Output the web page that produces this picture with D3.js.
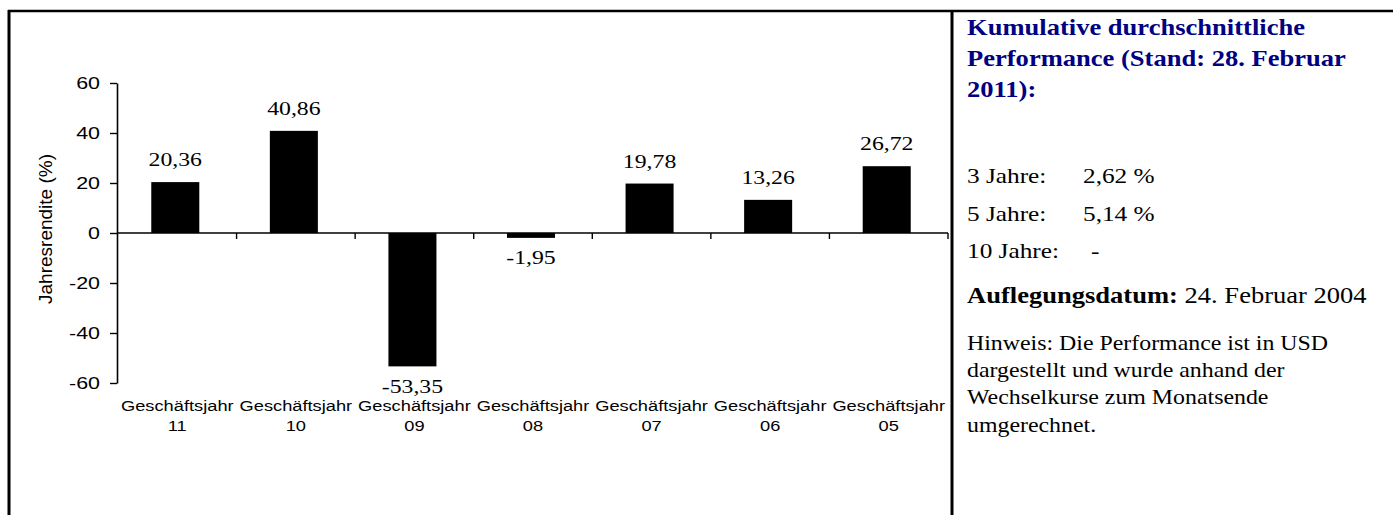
<!DOCTYPE html>
<html>
<head>
<meta charset="utf-8">
<script src="https://cdn.jsdelivr.net/npm/d3@7"></script>
<style>
  html, body { margin: 0; padding: 0; background: #fff; }
  svg { display: block; }
</style>
</head>
<body>
<svg id="chart" width="1393" height="515"></svg>
<script>
// ---- data ----
const categoryTop = "Geschäftsjahr";
const categoryYears = ["11", "10", "09", "08", "07", "06", "05"];
const values = [20.36, 40.86, -53.35, -1.95, 19.78, 13.26, 26.72];
const yTicks = [-60, -40, -20, 0, 20, 40, 60];
const yLabel = "Jahresrendite (%)";

const titleLines = ["Kumulative durchschnittliche", "Performance (Stand: 28. Februar", "2011):"];
const perfLabels = ["3 Jahre:", "5 Jahre:", "10 Jahre:"];
const perfValues = ["2,62 %", "5,14 %", "-"];
const launchLabel = "Auflegungsdatum:";
const launchDate = " 24. Februar 2004";
const noteLines = ["Hinweis: Die Performance ist in USD", "dargestellt und wurde anhand der", "Wechselkurse zum Monatsende", "umgerechnet."];

// ---- layout ----
const SANS = "'Liberation Sans', Arial, sans-serif";
const SERIF = "'Liberation Serif', 'Times New Roman', serif";

const svg = d3.select("#chart");
svg.append("rect").attr("width", 1393).attr("height", 515).attr("fill", "#fff");

// frame
svg.append("line").attr("x1", 8).attr("x2", 1393).attr("y1", 11).attr("y2", 11)
  .attr("stroke", "#000").attr("stroke-width", 2.5);
svg.append("line").attr("x1", 9).attr("x2", 9).attr("y1", 10).attr("y2", 515)
  .attr("stroke", "#000").attr("stroke-width", 3);
svg.append("line").attr("x1", 952).attr("x2", 952).attr("y1", 10).attr("y2", 515)
  .attr("stroke", "#000").attr("stroke-width", 3);

const ids = categoryYears.map((d, i) => i);
const y = d3.scaleLinear().domain([-60, 60]).range([383, 83]);
const xb = d3.scaleBand().domain(ids).range([118, 948]).padding(0);
const x = d3.scaleBand().domain(ids).range([116, 946]).paddingInner(0.595).paddingOuter(0.2975);

// bars
svg.append("g").selectAll("rect").data(values).join("rect")
  .attr("x", (d, i) => x(i))
  .attr("width", x.bandwidth())
  .attr("y", d => y(Math.max(0, d)))
  .attr("height", d => Math.abs(y(d) - y(0)))
  .attr("fill", "#000");

// y axis
const yAxis = svg.append("g").attr("transform", "translate(117,0)")
  .call(d3.axisLeft(y).tickValues(yTicks).tickSize(7).tickSizeOuter(0).tickFormat(d => String(d)));
yAxis.select(".domain").attr("stroke-width", 1.6);
yAxis.selectAll(".tick line").attr("stroke-width", 1.4);
yAxis.selectAll(".tick text")
  .attr("x", 0).attr("dy", "0.36em")
  .attr("transform", "translate(-17,0) scale(1.3,1)")
  .attr("font-family", SANS).attr("font-size", 16.5).attr("fill", "#000");

// x axis (line at zero with boundary ticks)
const xAxis = svg.append("g").attr("transform", `translate(0,${y(0)})`);
xAxis.append("line").attr("x1", 117).attr("x2", 948).attr("stroke", "#000").attr("stroke-width", 1.6);
xAxis.selectAll("line.tk").data(ids).join("line").attr("class", "tk")
  .attr("x1", i => xb(i) + xb.bandwidth()).attr("x2", i => xb(i) + xb.bandwidth())
  .attr("y1", 0).attr("y2", 6).attr("stroke", "#000").attr("stroke-width", 1.4);

// category labels
const catG = svg.append("g").selectAll("g").data(ids).join("g")
  .attr("transform", i => `translate(${xb(i) + xb.bandwidth() / 2},0)`);
catG.append("text").attr("transform", "translate(0,410.5) scale(1.26,1)")
  .attr("text-anchor", "middle").attr("font-family", SANS).attr("font-size", 14.5)
  .text(categoryTop);
catG.append("text").attr("transform", "translate(0,431) scale(1.26,1)")
  .attr("text-anchor", "middle").attr("font-family", SANS).attr("font-size", 14.5)
  .text(i => categoryYears[i]);

// value labels
svg.append("g").selectAll("text").data(values).join("text")
  .attr("transform", (d, i) => `translate(${x(i) + x.bandwidth() / 2},${d >= 0 ? y(d) - 16 : y(d) + 26.5}) scale(1.25,1)`)
  .attr("text-anchor", "middle").attr("font-family", SERIF).attr("font-size", 19)
  .text(d => d.toFixed(2).replace(".", ","));

// y label
svg.append("text").attr("transform", "translate(52,229) rotate(-90)")
  .attr("text-anchor", "middle").attr("font-family", SANS).attr("font-size", 19)
  .text(yLabel);

// ---- right panel ----
const RX = 967;
const rp = svg.append("g");
const titleY = [35, 66, 97];
rp.selectAll("text.title").data(titleLines).join("text").attr("class", "title")
  .attr("transform", (d, i) => `translate(${RX},${titleY[i]}) scale(1.13,1)`)
  .attr("font-family", SERIF).attr("font-weight", "bold").attr("font-size", 23.5)
  .attr("fill", "#000080").text(d => d);

const perfY = [183, 221, 258];
rp.selectAll("text.pl").data(perfLabels).join("text").attr("class", "pl")
  .attr("transform", (d, i) => `translate(${RX},${perfY[i]}) scale(1.15,1)`)
  .attr("font-family", SERIF).attr("font-size", 22).text(d => d);
rp.selectAll("text.pv").data(perfValues).join("text").attr("class", "pv")
  .attr("transform", (d, i) => `translate(${d === "-" ? 1091 : 1083},${perfY[i]}) scale(1.15,1)`)
  .attr("font-family", SERIF).attr("font-size", 22).text(d => d);

const launch = rp.append("text").attr("transform", `translate(${RX},303) scale(1.13,1)`)
  .attr("font-family", SERIF).attr("font-size", 23.5);
launch.append("tspan").attr("font-weight", "bold").text(launchLabel);
launch.append("tspan").text(launchDate);

const noteY = [350, 377, 404, 432];
rp.selectAll("text.note").data(noteLines).join("text").attr("class", "note")
  .attr("transform", (d, i) => `translate(${RX},${noteY[i]}) scale(1.085,1)`)
  .attr("font-family", SERIF).attr("font-size", 22).text(d => d);
</script>
</body>
</html>
